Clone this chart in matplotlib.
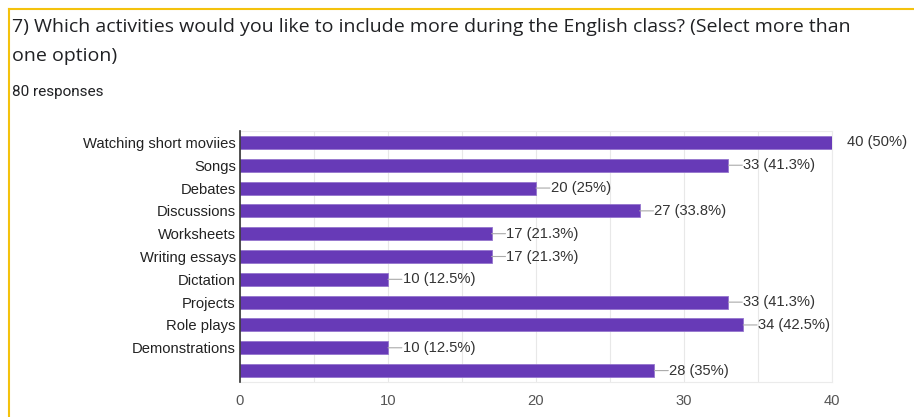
import matplotlib.pyplot as plt
from matplotlib.lines import Line2D

# chart values
categories = ["Watching short moviies", "Songs", "Debates", "Discussions", "Worksheets",
              "Writing essays", "Dictation", "Projects", "Role plays", "Demonstrations", ""]
counts = [40, 33, 20, 27, 17, 17, 10, 33, 34, 10, 28]
percents = ["50%", "41.3%", "25%", "33.8%", "21.3%", "21.3%", "12.5%", "41.3%", "42.5%", "12.5%", "35%"]
x_ticks = [0, 10, 20, 30, 40]

title_lines = ["7) Which activities would you like to include more during the English class? (Select more than",
               "one option)"]
subtitle = "80 responses"

W, H = 914, 417
fig = plt.figure(figsize=(W / 100, H / 100), dpi=100)

# yellow card border (top + left)
fig.add_artist(Line2D([9 / W, 9 / W], [0, 1 - 9 / H], color="#f4c20d", lw=1.5))
fig.add_artist(Line2D([9 / W, 1], [1 - 9 / H, 1 - 9 / H], color="#f4c20d", lw=1.5))

for line, yc in zip(title_lines, [27, 56]):
    fig.text(12 / W, 1 - yc / H, line, ha="left", va="center", fontsize=14.0,
             family="Open Sans", color="#202124")
fig.text(12 / W, 1 - 92 / H, subtitle, ha="left", va="center", fontsize=11.0,
         family="Roboto", color="#202124")

left, right, top, bottom = 240, 832, 131, 382
ax = fig.add_axes([left / W, 1 - bottom / H, (right - left) / W, (bottom - top) / H])

y = list(range(len(categories)))
ax.barh(y, counts, height=0.57, color="#673ab7", edgecolor="#9575cd", linewidth=0.6, zorder=3)
ax.set_ylim(len(categories) - 0.5, -0.5)
ax.set_xlim(0, 40)

ax.set_xticks(x_ticks)
ax.set_xticks([5, 15, 25, 35], minor=True)
ax.grid(axis="x", which="both", color="#e8e8e8", lw=0.8, zorder=0)
ax.tick_params(axis="x", which="both", length=0, pad=8.5, labelsize=10.6, labelcolor="#555555")
ax.tick_params(axis="y", length=0, pad=3, labelsize=10.6, labelcolor="#222222")
ax.set_yticks(y)
ax.set_yticklabels(categories)
for lbl in ax.get_xticklabels() + ax.get_yticklabels():
    lbl.set_family("Liberation Sans")

for side in ("top", "right", "bottom"):
    ax.spines[side].set_color("#ebebeb")
    ax.spines[side].set_linewidth(0.8)
ax.spines["left"].set_color("#333333")
ax.spines["left"].set_linewidth(1.2)
ax.spines["left"].set_zorder(4)

# value labels with short grey leader lines
for yi, (c, p) in enumerate(zip(counts, percents)):
    if c < max(x_ticks):
        ax.annotate("", xy=(c, yi), xytext=(10, 0), textcoords="offset points",
                    annotation_clip=False,
                    arrowprops=dict(arrowstyle="-", color="#aaaaaa", lw=0.8,
                                    shrinkA=0, shrinkB=0))
    ax.annotate(f"{c} ({p})", (c, yi), xytext=(10.5, 0), textcoords="offset points",
                va="center", ha="left", fontsize=10.6, color="#333333",
                family="Liberation Sans", annotation_clip=False)

fig.savefig("out.png", dpi=100)
